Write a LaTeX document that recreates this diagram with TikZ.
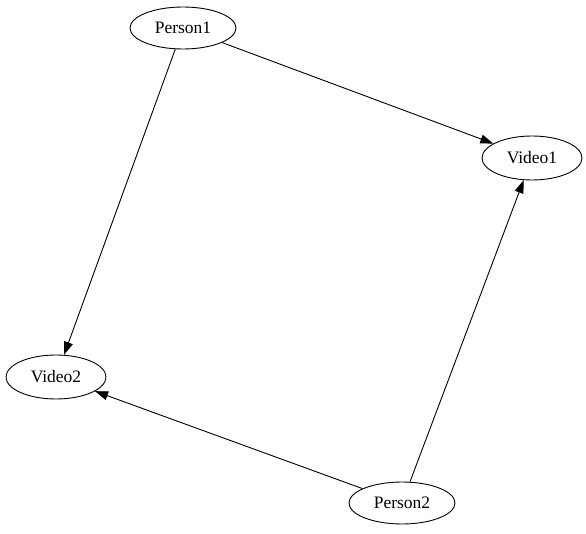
\documentclass[tikz,border=0pt]{standalone}
\usepackage{fontspec}
\setmainfont{Liberation Serif}
\usetikzlibrary{shapes.geometric,arrows.meta}
\begin{document}
\begin{tikzpicture}[x=1pt,y=-1pt,
  vertex/.style={draw,ellipse,line width=0.9pt,font=\fontsize{17.5}{20}\selectfont,inner sep=0pt},
  person/.style={vertex,minimum width=106pt,minimum height=42pt},
  video/.style={vertex,minimum width=100pt,minimum height=44pt},
  link/.style={draw,line width=0.9pt,-{Triangle[length=13pt,width=9pt]}}]
\useasboundingbox (0,0) rectangle (586,534);
\node[person] (p1) at (183,28) {Person1};
\node[video]  (v1) at (532,158) {Video1};
\node[video]  (v2) at (56,377) {Video2};
\node[person] (p2) at (402,503) {Person2};
\path[link] (p1) -- (v1);
\path[link] (p1) -- (v2);
\path[link] (p2) -- (v1);
\path[link] (p2) -- (v2);
\end{tikzpicture}
\end{document}
